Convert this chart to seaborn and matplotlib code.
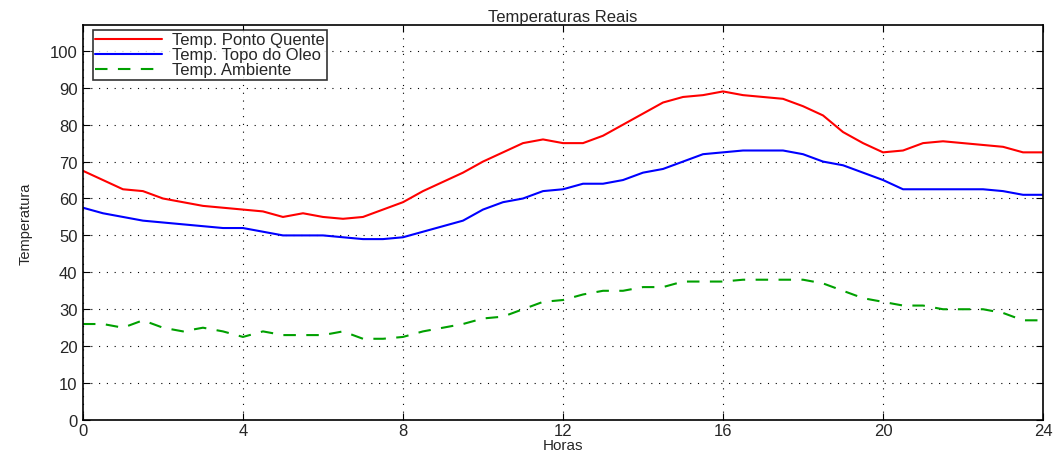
import numpy as np
import pandas as pd
import matplotlib
matplotlib.use("Agg")
import matplotlib.pyplot as plt
import seaborn as sns

# horas, de meia em meia hora
horas = np.arange(0, 24.5, 0.5)

pontoQuente = [67.5, 65, 62.5, 62, 60, 59, 58, 57.5, 57, 56.5, 55, 56, 55, 54.5, 55, 57, 59,
               62, 64.5, 67, 70, 72.5, 75, 76, 75, 75, 77, 80, 83, 86, 87.5, 88, 89, 88, 87.5,
               87, 85, 82.5, 78, 75, 72.5, 73, 75, 75.5, 75, 74.5, 74, 72.5, 72.5]

topoOleo = [57.5, 56, 55, 54, 53.5, 53, 52.5, 52, 52, 51, 50, 50, 50, 49.5, 49, 49, 49.5,
            51, 52.5, 54, 57, 59, 60, 62, 62.5, 64, 64, 65, 67, 68, 70, 72, 72.5, 73, 73,
            73, 72, 70, 69, 67, 65, 62.5, 62.5, 62.5, 62.5, 62.5, 62, 61, 61]

ambiente = [26, 26, 25, 27, 25, 24, 25, 24, 22.5, 24, 23, 23, 23, 24, 22, 22, 22.5,
            24, 25, 26, 27.5, 28, 30, 32, 32.5, 34, 35, 35, 36, 36, 37.5, 37.5, 37.5, 38, 38,
            38, 38, 37, 35, 33, 32, 31, 31, 30, 30, 30, 29, 27, 27]

df = pd.DataFrame({"Horas": horas, "quente": pontoQuente, "oleo": topoOleo, "amb": ambiente})

sns.set_style("ticks")
plt.rcParams["font.family"] = ["Liberation Sans", "DejaVu Sans"]

fig = plt.figure(figsize=(10.54, 4.52), dpi=100)
ax = fig.add_axes([0.0787, 0.0686, 0.9109, 0.8739])

sns.lineplot(data=df, x="Horas", y="quente", color="#ff0000", lw=1.5, ax=ax, label="Temp. Ponto Quente")
sns.lineplot(data=df, x="Horas", y="oleo", color="#0000ff", lw=1.5, ax=ax, label="Temp. Topo do Oleo")
sns.lineplot(data=df, x="Horas", y="amb", color="#00a000", lw=1.5, ls=(0, (6, 5)), ax=ax, label="Temp. Ambiente")

ax.set_xlim(0, 24)
ax.set_ylim(0, 107)
ax.set_xticks(range(0, 25, 4))
ax.set_yticks(range(0, 101, 10))
ax.grid(True, color="black", ls=(0, (1, 6)), lw=0.8)
ax.tick_params(direction="in", top=True, right=True, labelsize=12, length=5, color="black")
ax.tick_params(axis="x", pad=2)
ax.tick_params(axis="y", pad=4)
for s in ax.spines.values():
    s.set_visible(True)
    s.set_color("black")
    s.set_linewidth(1.2)

ax.set_title("Temperaturas Reais", fontsize=12, pad=3)
ax.set_xlabel("Horas", fontsize=11, labelpad=0)
ax.set_ylabel("Temperatura", fontsize=10.5, labelpad=12)

leg = ax.legend(loc="upper left", bbox_to_anchor=(10 / 960, 1 - 5 / 395), borderaxespad=0,
                fontsize=12, frameon=True, fancybox=False, edgecolor="black",
                borderpad=0.15, labelspacing=0.0, handlelength=4.0, handletextpad=0.6)
leg.get_frame().set_linewidth(1.2)

plt.savefig("out.png", dpi=100)
